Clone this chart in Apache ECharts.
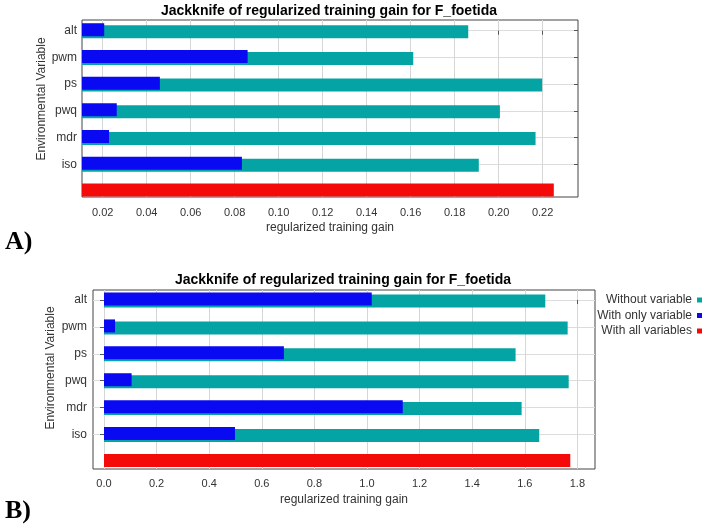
<!DOCTYPE html>
<html>
<head>
<meta charset="utf-8">
<script src="https://cdn.jsdelivr.net/npm/echarts@6/dist/echarts.min.js"></script>
<style>
  html, body { margin: 0; padding: 0; background: #fff; }
  #chart { width: 708px; height: 530px; }
</style>
</head>
<body>
<div id="chart"></div>
<script>
// Jackknife test of variable importance for F_foetida (two model runs)
const variables = ['alt', 'pwm', 'ps', 'pwq', 'mdr', 'iso'];

// Panel A: regularized training gain
const withoutA = [0.1862, 0.1612, 0.2198, 0.2006, 0.2168, 0.1910];
const onlyA    = [0.0207, 0.0859, 0.0460, 0.0264, 0.0229, 0.0833];
const allA     = 0.2251;
const ticksA   = [0.02, 0.04, 0.06, 0.08, 0.10, 0.12, 0.14, 0.16, 0.18, 0.20, 0.22];

// Panel B: regularized training gain
const withoutB = [1.678, 1.763, 1.565, 1.767, 1.588, 1.655];
const onlyB    = [1.018, 0.042, 0.684, 0.105, 1.136, 0.498];
const allB     = 1.773;
const ticksB   = [0.0, 0.2, 0.4, 0.6, 0.8, 1.0, 1.2, 1.4, 1.6, 1.8];

const TITLE = 'Jackknife of regularized training gain for F_foetida';
const SERIES_NAMES = ['Without variable', 'With only variable', 'With all variables'];
const COLORS = { without: '#05a4a4', only: '#0a0af2', all: '#f50a0a' };
const SANS = 'Liberation Sans, Arial, sans-serif';
const rowIdx = variables.map((_, i) => i);

const grids = [], xAxes = [], yAxes = [], series = [];

function addPanel(p) {
  const frameGrid = grids.length;
  grids.push({
    left: p.left, top: p.top, width: p.width, height: p.height,
    show: true, backgroundColor: '#fff', borderColor: '#444', borderWidth: 1
  });
  const barGrid = grids.length;
  grids.push({ left: p.left, top: p.barTop, width: p.width, height: p.barHeight, show: false });

  // visible value axis (bottom) with labels and vertical grid lines
  xAxes.push({
    type: 'value', gridIndex: frameGrid, position: 'bottom',
    min: p.xMin, max: p.xMax,
    name: 'regularized training gain', nameLocation: 'middle', nameGap: 25,
    nameTextStyle: { fontSize: 12, color: '#333', fontFamily: SANS },
    axisLine: { show: false },
    axisTick: { show: false, customValues: p.ticks },
    axisLabel: {
      customValues: p.ticks, fontSize: 11, color: '#333', fontFamily: SANS, margin: p.tickMargin,
      formatter: v => v.toFixed(p.decimals)
    },
    splitLine: { show: true, lineStyle: { color: '#d6d6d6', width: 1 } }
  });
  // top edge tick marks
  xAxes.push({
    type: 'value', gridIndex: frameGrid, position: 'top',
    min: p.xMin, max: p.xMax,
    axisLine: { show: false },
    axisTick: { show: true, inside: true, length: 4, customValues: p.ticks, lineStyle: { color: '#555' } },
    axisLabel: { show: false },
    splitLine: { show: false }
  });
  // hidden value axis driving the bars
  const barX = xAxes.length;
  xAxes.push({ type: 'value', gridIndex: barGrid, min: p.xMin, max: p.xMax, show: false });

  // row guides on the frame: left ticks + horizontal lines, right ticks
  yAxes.push({
    type: 'value', gridIndex: frameGrid, position: 'left', inverse: true,
    min: p.yMin, max: p.yMax,
    axisLine: { show: false },
    axisTick: { show: true, inside: true, length: 4, customValues: rowIdx, lineStyle: { color: '#555' } },
    axisLabel: { show: false },
    splitLine: { show: true, lineStyle: { color: '#dcdcdc', width: 1 } }
  });
  yAxes.push({
    type: 'value', gridIndex: frameGrid, position: 'right', inverse: true,
    min: p.yMin, max: p.yMax,
    axisLine: { show: false },
    axisTick: { show: true, inside: true, length: 4, customValues: rowIdx, lineStyle: { color: '#555' } },
    axisLabel: { show: false },
    splitLine: { show: false }
  });
  // category axis for the bars, with variable names
  const barY = yAxes.length;
  yAxes.push({
    type: 'category', gridIndex: barGrid, inverse: true,
    data: variables.concat(['']),
    axisLine: { show: false }, axisTick: { show: false },
    axisLabel: { fontSize: 12, color: '#333', fontFamily: SANS, margin: p.labelMargin },
    splitLine: { show: false }
  });

  const pad = (arr) => arr.concat(['-']);
  series.push({
    name: SERIES_NAMES[1], type: 'bar', xAxisIndex: barX, yAxisIndex: barY,
    stack: 'single' + barGrid, data: pad(p.only), barWidth: 13, barGap: '-85%',
    itemStyle: { color: COLORS.only }, z: 4, silent: true, animation: false
  });
  series.push({
    name: SERIES_NAMES[0], type: 'bar', xAxisIndex: barX, yAxisIndex: barY,
    data: pad(p.without), barWidth: 13, barGap: '-85%',
    itemStyle: { color: COLORS.without }, z: 3, silent: true, animation: false
  });
  series.push({
    name: SERIES_NAMES[2], type: 'bar', xAxisIndex: barX, yAxisIndex: barY,
    stack: 'single' + barGrid, data: variables.map(() => '-').concat([p.all]), barWidth: 13,
    itemStyle: { color: COLORS.all }, z: 4, silent: true, animation: false
  });
}

addPanel({
  left: 82, top: 20, width: 496, height: 177,
  barTop: 17.35, barHeight: 186.9,
  xMin: 0.0106, xMax: 0.2361, yMin: -0.4007, yMax: 6.2285,
  ticks: ticksA, decimals: 2, labelMargin: 5, tickMargin: 10,
  without: withoutA, only: onlyA, all: allA
});
addPanel({
  left: 93, top: 290, width: 502, height: 179,
  barTop: 286.55, barHeight: 188.3,
  xMin: -0.0418, xMax: 1.867, yMin: -0.372, yMax: 6.282,
  ticks: ticksB, decimals: 1, labelMargin: 6, tickMargin: 9,
  without: withoutB, only: onlyB, all: allB
});

function label(text, x, y, font, opts) {
  return Object.assign({
    type: 'text', x: x, y: y, silent: true,
    style: { text: text, font: font, fill: '#000', align: 'center', verticalAlign: 'middle' }
  }, opts || {});
}

const yName = (x, y) => ({
  type: 'text', x: x, y: y, rotation: Math.PI / 2, silent: true,
  style: { text: 'Environmental Variable', font: '12px ' + SANS, fill: '#333', align: 'center', verticalAlign: 'middle' }
});

const option = {
  animation: false,
  backgroundColor: '#fff',
  grid: grids,
  xAxis: xAxes,
  yAxis: yAxes,
  series: series,
  legend: {
    orient: 'vertical', right: 6, top: 293, align: 'right', padding: 0,
    icon: 'rect', itemWidth: 5, itemHeight: 5, itemGap: 1.5,
    data: SERIES_NAMES,
    textStyle: { fontSize: 12, color: '#333', fontFamily: SANS, lineHeight: 14 },
    selectedMode: false
  },
  graphic: [
    label(TITLE, 329, 11, 'bold 14px ' + SANS),
    label(TITLE, 343, 280, 'bold 14px ' + SANS),
    yName(42, 99),
    yName(51, 368),
    { type: 'text', x: 5, y: 242, silent: true, style: { text: 'A)', font: 'bold 26px Liberation Serif, Times New Roman, serif', fill: '#000', align: 'left', verticalAlign: 'middle' } },
    { type: 'text', x: 5, y: 511, silent: true, style: { text: 'B)', font: 'bold 26px Liberation Serif, Times New Roman, serif', fill: '#000', align: 'left', verticalAlign: 'middle' } }
  ]
};

const chart = echarts.init(document.getElementById('chart'), null, { renderer: 'canvas' });
chart.setOption(option);
</script>
</body>
</html>
